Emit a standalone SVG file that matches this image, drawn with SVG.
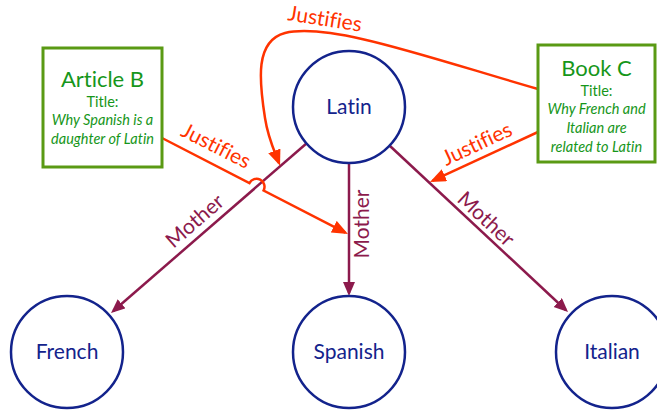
<svg xmlns="http://www.w3.org/2000/svg" width="657" height="410" viewBox="0 0 657 410">
  <style>
    text { font-family: Lato, "Open Sans", "Liberation Sans", sans-serif; font-variant-ligatures: none; }
    .lang { fill: #fff; stroke: #13238c; stroke-width: 2.5; }
    .lang-label { fill: #13238c; font-size: 21px; text-anchor: middle; }
    .doc { fill: #fff; stroke: #5a9a14; stroke-width: 3; }
    .doc-head { fill: #16961a; font-size: 22px; text-anchor: middle; }
    .doc-sub { fill: #16961a; font-size: 14.5px; text-anchor: middle; }
    .doc-title { fill: #16961a; font-size: 14.5px; text-anchor: middle; font-style: italic; }
    .mother { fill: none; stroke: #8c1a4c; stroke-width: 2.5; }
    .justifies { fill: none; stroke: #ff3300; stroke-width: 2.5; }
    .mother-label { fill: #8c1a4c; font-size: 21px; text-anchor: middle; }
    .justifies-label { fill: #ff3300; font-size: 21px; text-anchor: middle; }
  </style>
  <defs>
    <marker id="arrow-mother" markerUnits="userSpaceOnUse" markerWidth="16" markerHeight="14" refX="11" refY="6" orient="auto">
      <path d="M0,0 L14,6 L0,12 z" fill="#8c1a4c"/>
    </marker>
    <marker id="arrow-justifies" markerUnits="userSpaceOnUse" markerWidth="18" markerHeight="14" refX="13" refY="6.5" orient="auto">
      <path d="M0,0 L16,6.5 L0,13 z" fill="#ff3300"/>
    </marker>
  </defs>

  <g id="connectors">
    <!-- Mother relations from Latin -->
    <line class="mother" x1="307" y1="143" x2="113.3" y2="311" marker-end="url(#arrow-mother)"/>
    <line class="mother" x1="349" y1="163" x2="349" y2="293" marker-end="url(#arrow-mother)"/>
    <line class="mother" x1="390" y1="146" x2="565.8" y2="310" marker-end="url(#arrow-mother)"/>
    <!-- Justifies relations from the documents -->
    <path class="justifies" d="M162,138 L249.4,183.1 A8,8 0 0 1 263.6,190.5 L345.3,232.6" marker-end="url(#arrow-justifies)"/>
    <path class="justifies" d="M538,89 C430,58 330,22 285,33 C255,41 259,80 265,118 C268,138 274,150 279,163" marker-end="url(#arrow-justifies)"/>
    <line class="justifies" x1="538" y1="132" x2="432.7" y2="180.7" marker-end="url(#arrow-justifies)"/>
    <!-- Labels -->
    <text class="mother-label" transform="translate(195,221) rotate(-41)" y="7">Mother</text>
    <text class="mother-label" transform="translate(362,224) rotate(-90)" y="7">Mother</text>
    <text class="mother-label" transform="translate(486,219) rotate(43)" y="7">Mother</text>
    <text class="justifies-label" transform="translate(216,146) rotate(27)" y="7">Justifies</text>
    <text class="justifies-label" transform="translate(325,19) rotate(9)" y="7">Justifies</text>
    <text class="justifies-label" transform="translate(477,144) rotate(-25)" y="7">Justifies</text>
  </g>

  <g id="latin">
    <circle class="lang" cx="349" cy="107" r="56"/>
    <text class="lang-label" x="349" y="114">Latin</text>
  </g>
  <g id="french">
    <circle class="lang" cx="67" cy="352" r="56"/>
    <text class="lang-label" x="67" y="359">French</text>
  </g>
  <g id="spanish">
    <circle class="lang" cx="349" cy="352" r="56"/>
    <text class="lang-label" x="349" y="359">Spanish</text>
  </g>
  <g id="italian">
    <circle class="lang" cx="612" cy="352" r="56"/>
    <text class="lang-label" x="612" y="359">Italian</text>
  </g>

  <g id="article-b">
    <rect class="doc" x="43" y="48" width="119" height="119"/>
    <text class="doc-head" x="102.5" y="87">Article B</text>
    <text class="doc-sub" x="102.5" y="107">Title:</text>
    <text class="doc-title" x="102.5" y="125">Why Spanish is a</text>
    <text class="doc-title" x="102.5" y="144">daughter of Latin</text>
  </g>
  <g id="book-c">
    <rect class="doc" x="538" y="45" width="117" height="117"/>
    <text class="doc-head" x="596.5" y="76">Book C</text>
    <text class="doc-sub" x="596.5" y="96">Title:</text>
    <text class="doc-title" x="596.5" y="114">Why French and</text>
    <text class="doc-title" x="596.5" y="133">Italian are</text>
    <text class="doc-title" x="596.5" y="152">related to Latin</text>
  </g>
</svg>
